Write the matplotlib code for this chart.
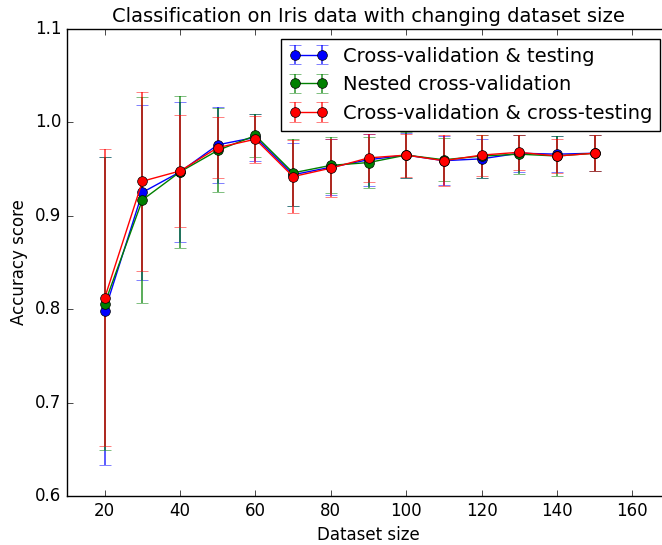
import matplotlib
matplotlib.use("Agg")
import matplotlib.pyplot as plt

plt.style.use("classic")

sizes = [20, 30, 40, 50, 60, 70, 80, 90, 100, 110, 120, 130, 140, 150]

# Cross-validation & testing
cvt_mean = [0.798, 0.925, 0.947, 0.976, 0.984, 0.944, 0.952, 0.960, 0.965, 0.959, 0.961, 0.967, 0.966, 0.967]
cvt_err = [0.165, 0.094, 0.075, 0.041, 0.025, 0.034, 0.030, 0.028, 0.024, 0.026, 0.021, 0.020, 0.019, 0.019]

# Nested cross-validation
ncv_mean = [0.806, 0.917, 0.947, 0.970, 0.986, 0.946, 0.954, 0.957, 0.965, 0.960, 0.964, 0.966, 0.964, 0.967]
ncv_err = [0.157, 0.110, 0.081, 0.045, 0.023, 0.036, 0.030, 0.027, 0.025, 0.023, 0.023, 0.021, 0.021, 0.019]

# Cross-validation & cross-testing
cvct_mean = [0.812, 0.937, 0.948, 0.973, 0.982, 0.942, 0.951, 0.962, 0.965, 0.959, 0.965, 0.968, 0.964, 0.967]
cvct_err = [0.159, 0.096, 0.060, 0.033, 0.025, 0.039, 0.031, 0.026, 0.023, 0.027, 0.022, 0.019, 0.018, 0.019]

series = [
    ("Cross-validation & testing", cvt_mean, cvt_err, "b"),
    ("Nested cross-validation", ncv_mean, ncv_err, "g"),
    ("Cross-validation & cross-testing", cvct_mean, cvct_err, "r"),
]

fig = plt.figure(figsize=(6.62, 5.45), dpi=100, facecolor="white")
# axes run a bit past the right edge, as in the reference
ax = fig.add_axes([67 / 662, 1 - 496 / 545, 603 / 662, 467 / 545])

for label, mean, err, color in series:
    line, caps, bars = ax.errorbar(sizes, mean, yerr=err, fmt="o-", color=color,
                                   mec="k", ms=7, lw=1, elinewidth=1.3,
                                   capsize=4, label=label)
    for c in caps:
        c.set_alpha(0.7)
    for b in bars:
        b.set_alpha(0.7)

ax.set_xlim(10, 170)
ax.set_ylim(0.6, 1.1)
ax.set_xticks(range(20, 161, 20))
ax.set_yticks([0.6, 0.7, 0.8, 0.9, 1.0, 1.1])
ax.set_xlabel("Dataset size", fontsize=12)
ax.set_ylabel("Accuracy score", fontsize=12)
ax.set_title("Classification on Iris data with changing dataset size", fontsize=14)
ax.tick_params(labelsize=12)
ax.legend(loc="upper right", numpoints=2, fontsize=14)

fig.savefig("out.png", dpi=100, facecolor="white")
